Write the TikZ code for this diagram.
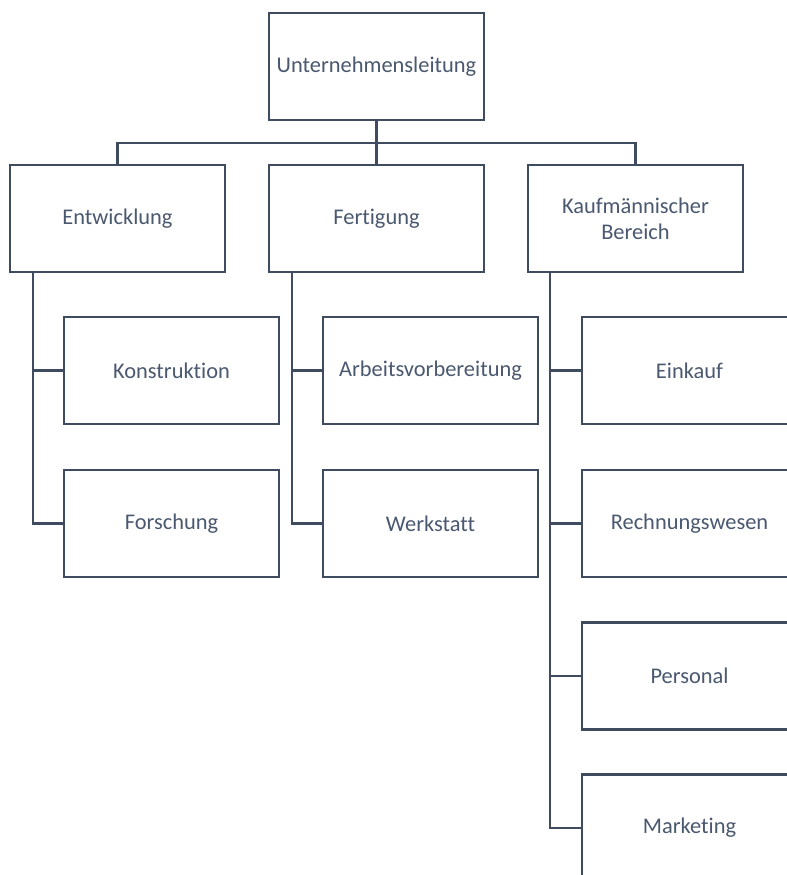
\documentclass[tikz,border=0pt]{standalone}
\usepackage{fontspec}
\setmainfont{Carlito}[Ligatures=NoCommon]
\definecolor{linec}{HTML}{3F4C5F}
\definecolor{textc}{HTML}{4A5870}
\tikzset{
  orgbox/.style={draw=linec, line width=2.4bp, fill=white, minimum width=215bp, minimum height=107bp, inner sep=2bp, align=center, text=textc, font=\fontsize{22.5}{26}\selectfont},
  conn/.style={draw=linec, line width=2.4bp}
}
\begin{document}
\begin{tikzpicture}[x=1bp,y=-1bp]
\useasboundingbox (0,0) rectangle (787,875);
\clip (0,0) rectangle (787,875);
\node[orgbox] (u) at (376.5,66.5) {Unternehmensleitung};
\node[orgbox] (ent) at (117.5,218.5) {Entwicklung};
\node[orgbox] (fert) at (376.5,218.5) {Fertigung};
\node[orgbox] (kauf) at (635.5,218.5) {Kaufmännischer\\Bereich};
\node[orgbox] (konst) at (171.5,370.5) {Konstruktion};
\node[orgbox] (forsch) at (171.5,523.5) {Forschung};
\node[orgbox] (arb) at (430.5,370.5) {Arbeitsvorbereitung};
\node[orgbox] (werk) at (430.5,523.5) {Werkstatt};
\node[orgbox] (eink) at (689.5,370.5) {Einkauf};
\node[orgbox] (rech) at (689.5,523.5) {Rechnungswesen};
\node[orgbox] (pers) at (689.5,676) {Personal};
\node[orgbox] (mark) at (689.5,828) {Marketing};
\coordinate (bus) at (376.5,143);
\coordinate (entbar) at (33,272);
\coordinate (fertbar) at (292,272);
\coordinate (kaufbar) at (550,272);
% top level
\draw[conn] (u.south) -- (fert.north);
\draw[conn] (ent.north) -- (ent.north |- bus) -- (kauf.north |- bus) -- (kauf.north);
% Entwicklung
\draw[conn] (entbar) |- (forsch.west);
\draw[conn] (konst.west) -- (konst.west -| entbar);
% Fertigung
\draw[conn] (fertbar) |- (werk.west);
\draw[conn] (arb.west) -- (arb.west -| fertbar);
% Kaufmaennischer Bereich
\draw[conn] (kaufbar) |- (mark.west);
\draw[conn] (eink.west) -- (eink.west -| kaufbar);
\draw[conn] (rech.west) -- (rech.west -| kaufbar);
\draw[conn] (pers.west) -- (pers.west -| kaufbar);
\end{tikzpicture}
\end{document}
